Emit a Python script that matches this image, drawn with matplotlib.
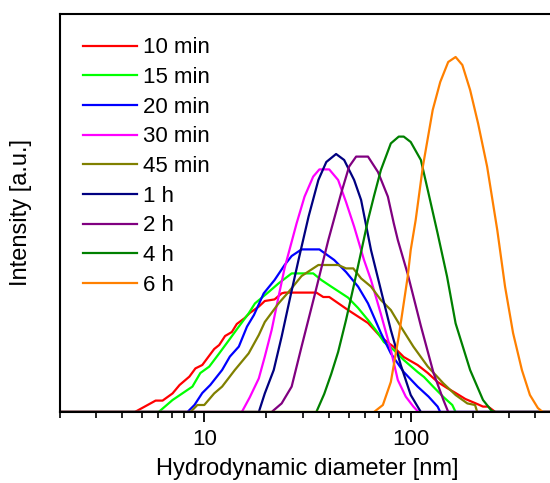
import matplotlib
matplotlib.use("Agg")
import matplotlib.pyplot as plt
from matplotlib.ticker import LogLocator, NullFormatter, FixedLocator, FixedFormatter

plt.rcParams["font.family"] = ["Liberation Sans", "DejaVu Sans"]

# hydrodynamic diameter [nm] / intensity [a.u.]
d_10min = [2, 4.61, 5.81, 6.28, 7.02, 7.59, 8.47, 9.06, 9.78, 11.17, 11.81, 12.61, 13.6, 14.37,
           15.71, 16.6, 18.37, 19.64, 21.9, 23.7, 24.5, 34.9, 37.7, 40.3, 49.7, 62.1, 71.7,
           82.8, 92.5, 108, 121, 135, 150, 165, 184, 210, 224, 237, 257, 500]
i_10min = [0, 0, 0.57, 0.57, 0.93, 1.35, 1.77, 2.18, 2.35, 3.15, 3.35, 3.8, 4.0, 4.4,
           4.7, 4.95, 5.27, 5.55, 5.63, 5.93, 5.97, 5.97, 5.75, 5.75, 5.1, 4.45, 3.75,
           3.25, 2.75, 2.35, 1.95, 1.5, 1.2, 0.95, 0.65, 0.4, 0.27, 0.27, 0, 0]

d_15min = [2, 6.01, 7.02, 8.76, 9.57, 10.57, 11.81, 13.18, 14.7, 16.4, 17.6, 20.5, 22.9, 26.5,
           33.7, 36.9, 41.2, 49.7, 55.6, 62.1, 69.4, 74.1, 82.8, 92.5, 108, 116, 129, 144,
           159, 165, 500]
i_15min = [0, 0, 0.6, 1.27, 1.95, 2.27, 2.93, 3.6, 4.27, 4.93, 5.43, 6.0, 6.43, 6.93,
           6.93, 6.6, 6.27, 5.72, 5.2, 4.6, 3.95, 3.5, 3.1, 2.6, 2.0, 1.75, 1.25, 0.75,
           0.35, 0, 0]

d_20min = [2, 8.29, 8.96, 9.78, 10.69, 12.2, 13.3, 14.7, 16.1, 17.4, 19.4, 21.9, 24.5, 26.5,
           29.6, 36.1, 42.6, 48.6, 55.6, 62.1, 71.7, 80.1, 92.5, 108, 122, 135, 139, 500]
i_20min = [0, 0, 0.35, 0.95, 1.35, 2.1, 2.77, 3.27, 4.27, 4.85, 5.93, 6.6, 7.35, 7.8,
           8.13, 8.13, 7.6, 7.0, 6.27, 5.43, 3.95, 2.93, 2.0, 1.27, 0.77, 0.27, 0, 0]

d_30min = [2, 15.2, 16.6, 18.37, 19.64, 21.2, 22.9, 24.5, 28.0, 30.6, 33.7, 36.1, 40.3, 44.5,
           48.6, 53.2, 59.4, 64.2, 71.7, 80.1, 86.6, 94.6, 103, 109, 500]
i_30min = [0, 0, 0.73, 1.68, 2.77, 4.1, 5.77, 7.2, 9.43, 10.77, 11.77, 12.13, 12.13, 11.6,
           10.5, 9.27, 7.6, 6.6, 4.9, 3.1, 1.6, 0.77, 0.27, 0, 0]

d_45min = [2, 8.57, 9.26, 10.0, 11.17, 12.2, 14.06, 16.4, 18.37, 19.64, 22.9, 25.6, 29.6,
           35.7, 44.5, 48.6, 52.7, 57.5, 64.2, 71.7, 80.1, 89.5, 103, 121, 144, 165, 188,
           205, 210, 500]
i_45min = [0, 0, 0.35, 0.35, 0.93, 1.27, 2.1, 2.93, 3.85, 4.5, 5.43, 6.0, 6.8,
           7.35, 7.35, 7.18, 7.18, 6.68, 6.27, 5.6, 5.1, 4.27, 3.27, 2.27, 1.43, 0.85, 0.43,
           0.35, 0, 0]

d_1h = [2, 18.37, 19.64, 21.7, 23.7, 25.9, 28.6, 32.0, 35.7, 39.0, 43.5, 47.6, 53.2, 57.5,
        64.2, 71.7, 80.1, 89.5, 100, 112, 500]
i_1h = [0, 0, 0.93, 2.1, 3.77, 5.6, 7.6, 9.77, 11.6, 12.5, 12.9, 12.6, 11.6, 10.6,
        8.1, 6.1, 4.1, 2.35, 0.85, 0, 0]

d_2h = [2, 21.2, 23.7, 26.5, 29.6, 34.1, 39.9, 46.0, 50.3, 54.4, 62.1, 69.4, 77.5, 82.8,
        86.6, 96.7, 112, 129, 144, 152, 500]
i_2h = [0, 0, 0.43, 1.27, 3.27, 5.77, 8.6, 10.93, 12.27, 12.77, 12.77, 12.0, 10.77, 9.43,
        8.6, 6.9, 4.3, 1.95, 0.6, 0, 0]

d_4h = [2, 34.9, 38.1, 41.2, 44.5, 48.6, 53.2, 57.5, 62.1, 66.4, 71.7, 80.1, 87.5,
        92.5, 100, 112, 122, 135, 150, 165, 194, 224, 247, 257, 500]
i_4h = [0, 0, 0.9, 1.9, 3.0, 4.6, 6.4, 8.0, 9.6, 10.8, 12.1, 13.43, 13.77,
        13.77, 13.5, 12.6, 10.93, 8.93, 6.77, 4.43, 2.1, 0.6, 0.05, 0, 0]

d_6h = [2, 66.4, 73.3, 80.1, 87.5, 96.7, 100, 105.7, 114.5, 127.8, 139, 151.9, 165, 177.9,
        194, 212, 234.5, 262.6, 286.4, 313.2, 345.6, 378, 413, 436, 500]
i_6h = [0, 0, 0.35, 1.5, 3.77, 6.77, 8.1, 9.6, 12.27, 15.1, 16.5, 17.5, 17.75, 17.35,
        16.1, 14.43, 12.27, 9.1, 6.27, 3.95, 2.1, 0.85, 0.2, 0, 0]

labels = ["10 min", "15 min", "20 min", "30 min", "45 min", "1 h", "2 h", "4 h", "6 h"]
colors = ["#ff0000", "#00ff00", "#0000ff", "#ff00ff", "#808000",
          "#000080", "#800080", "#008000", "#ff8000"]
series = [(d_10min, i_10min), (d_15min, i_15min), (d_20min, i_20min), (d_30min, i_30min),
          (d_45min, i_45min), (d_1h, i_1h), (d_2h, i_2h), (d_4h, i_4h), (d_6h, i_6h)]

fig = plt.figure(figsize=(5.5, 4.83), dpi=100)
ax = fig.add_axes([60 / 550, 1 - 412 / 483, 495 / 550, 398 / 483])

for (d, inten), lab, col in zip(series, labels, colors):
    ax.plot(d, inten, color=col, lw=1.6, label=lab)

ax.set_xscale("log")
ax.set_xlim(2, 500)
ax.set_ylim(0, 19.9)
ax.set_yticks([])
ax.xaxis.set_major_locator(FixedLocator([10, 100]))
ax.xaxis.set_major_formatter(FixedFormatter(["10", "100"]))
ax.xaxis.set_minor_locator(LogLocator(base=10, subs=range(2, 10)))
ax.xaxis.set_minor_formatter(NullFormatter())
ax.tick_params(axis="x", which="major", direction="out", length=7, width=1.3,
               labelsize=16, pad=5)
ax.tick_params(axis="x", which="minor", direction="out", length=4, width=1.2)

for side in ("left", "top", "bottom"):
    ax.spines[side].set_linewidth(1.5)
ax.spines["right"].set_visible(False)

ax.set_xlabel("Hydrodynamic diameter [nm]", fontsize=17, labelpad=6)
ax.set_ylabel("Intensity [a.u.]", fontsize=17, labelpad=20)

ax.legend(loc="upper left", bbox_to_anchor=(0.0, 1.0), frameon=False, fontsize=16,
          handlelength=2.4, handletextpad=0.3, labelspacing=0.39, borderaxespad=0.65)

fig.savefig("out.png", dpi=100)
